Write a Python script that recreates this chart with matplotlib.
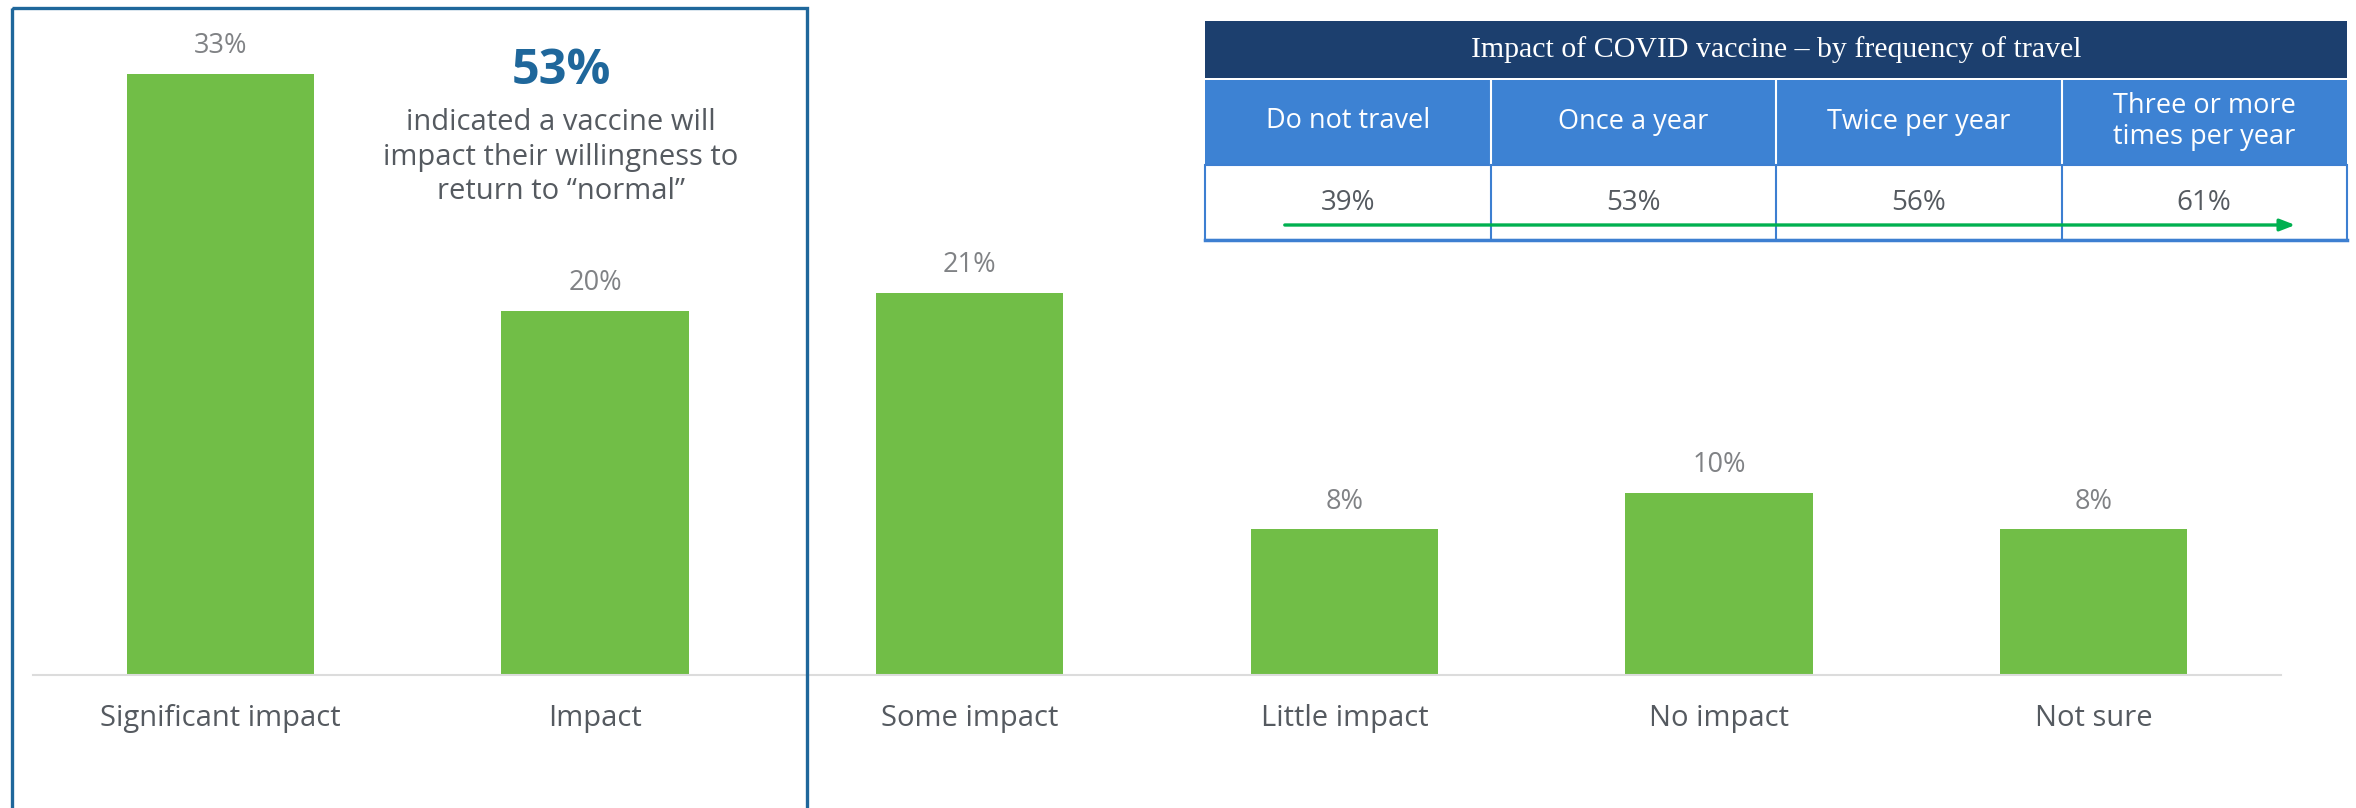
#!/usr/bin/env python3
"""Vaccine impact bar chart with travel-frequency table."""
import matplotlib
matplotlib.use('Agg')
import matplotlib.pyplot as plt
from matplotlib.patches import Rectangle
import numpy as np

plt.rcParams['font.family'] = ['Open Sans', 'DejaVu Sans']

categories = ['Significant impact', 'Impact', 'Some impact',
              'Little impact', 'No impact', 'Not sure']
values = [33, 20, 21, 8, 10, 8]

table_title = 'Impact of COVID vaccine \u2013 by frequency of travel'
table_cols = ['Do not travel', 'Once a year', 'Twice per year',
              'Three or more\ntimes per year']
table_vals = [39, 53, 56, 61]

C_GREEN = '#71BE47'; C_BOX = '#1F679B'; C_NAVY = '#1C3F6E'
C_LBLUE = '#3D82D3'; C_GRID = '#3D7FD1'; C_TEXT = '#555A60'

W, H = 2356, 808
fig = plt.figure(figsize=(W/100, H/100), dpi=100)
ax = fig.add_axes([33/W, (H-675)/H, (2281-33)/W, (675-19.4)/H])
x = np.arange(len(categories))
ax.bar(x, values, 0.5, color=C_GREEN, edgecolor='none', zorder=2)
for xi, v in zip(x, values):
    ax.annotate(f'{v}%', (xi, v), xytext=(0, 20), textcoords='offset points',
                ha='center', va='center', fontsize=19.5, color='#808285')
ax.set_xlim(-0.5, 5.5); ax.set_ylim(0, 36)
ax.set_xticks(x); ax.set_xticklabels(categories, fontsize=21, color=C_TEXT)
ax.tick_params(axis='x', length=0, pad=21)
ax.set_yticks([])
for s in ['top', 'left', 'right']:
    ax.spines[s].set_visible(False)
ax.spines['bottom'].set_color('#dcdcdc'); ax.spines['bottom'].set_linewidth(1.5)

# overlay in pixel coordinates for the box and table
ov = fig.add_axes([0, 0, 1, 1], facecolor='none')
ov.set_xlim(0, W); ov.set_ylim(H, 0); ov.axis('off')

ov.add_patch(Rectangle((12, 8), 795, 820, fill=False, ec=C_BOX, lw=2.4))
ov.text(561, 72, '53%', ha='center', va='center', fontsize=35,
        fontweight='bold', color=C_BOX)
ov.text(561, 157, 'indicated a vaccine will\nimpact their willingness to\nreturn to \u201cnormal\u201d',
        ha='center', va='center', fontsize=21, color=C_TEXT, linespacing=1.25)

# table
tx0, tx1 = 1205, 2347
ty0, ty1, ty2, ty3 = 21, 78, 165, 240
cw = (tx1 - tx0) / len(table_cols)
ov.add_patch(Rectangle((tx0, ty0), tx1-tx0, ty1-ty0, fc=C_NAVY, ec='none'))
ov.add_patch(Rectangle((tx0, ty1+2), tx1-tx0, ty2-ty1-2, fc=C_LBLUE, ec='none'))
ov.add_patch(Rectangle((tx0, ty2), tx1-tx0, ty3-ty2, fc='white', ec=C_GRID, lw=1.5))
ov.plot([tx0, tx1], [ty3, ty3], color=C_GRID, lw=2.5)
ov.text((tx0+tx1)/2, (ty0+ty1)/2, table_title, ha='center', va='center',
        fontsize=21.5, color='white', family=['Liberation Serif', 'DejaVu Serif'])
for i, (lab, v) in enumerate(zip(table_cols, table_vals)):
    cx = tx0 + cw*(i+0.5)
    if i > 0:
        ov.plot([tx0+cw*i]*2, [ty1+2, ty2], color='white', lw=1.5)
        ov.plot([tx0+cw*i]*2, [ty2, ty3], color=C_GRID, lw=1.5)
    ov.text(cx, (ty1+ty2)/2, lab, ha='center', va='center', fontsize=19.5,
            color='white', linespacing=1.1)
    ov.text(cx, 203, f'{v}%', ha='center', va='center', fontsize=20, color=C_TEXT)
ov.annotate('', xy=(2298, 225), xytext=(1282, 225),
            arrowprops=dict(arrowstyle='-|>,head_length=0.9,head_width=0.35',
                            color='#00B050', lw=2.4))

fig.savefig('out.png', dpi=100)
